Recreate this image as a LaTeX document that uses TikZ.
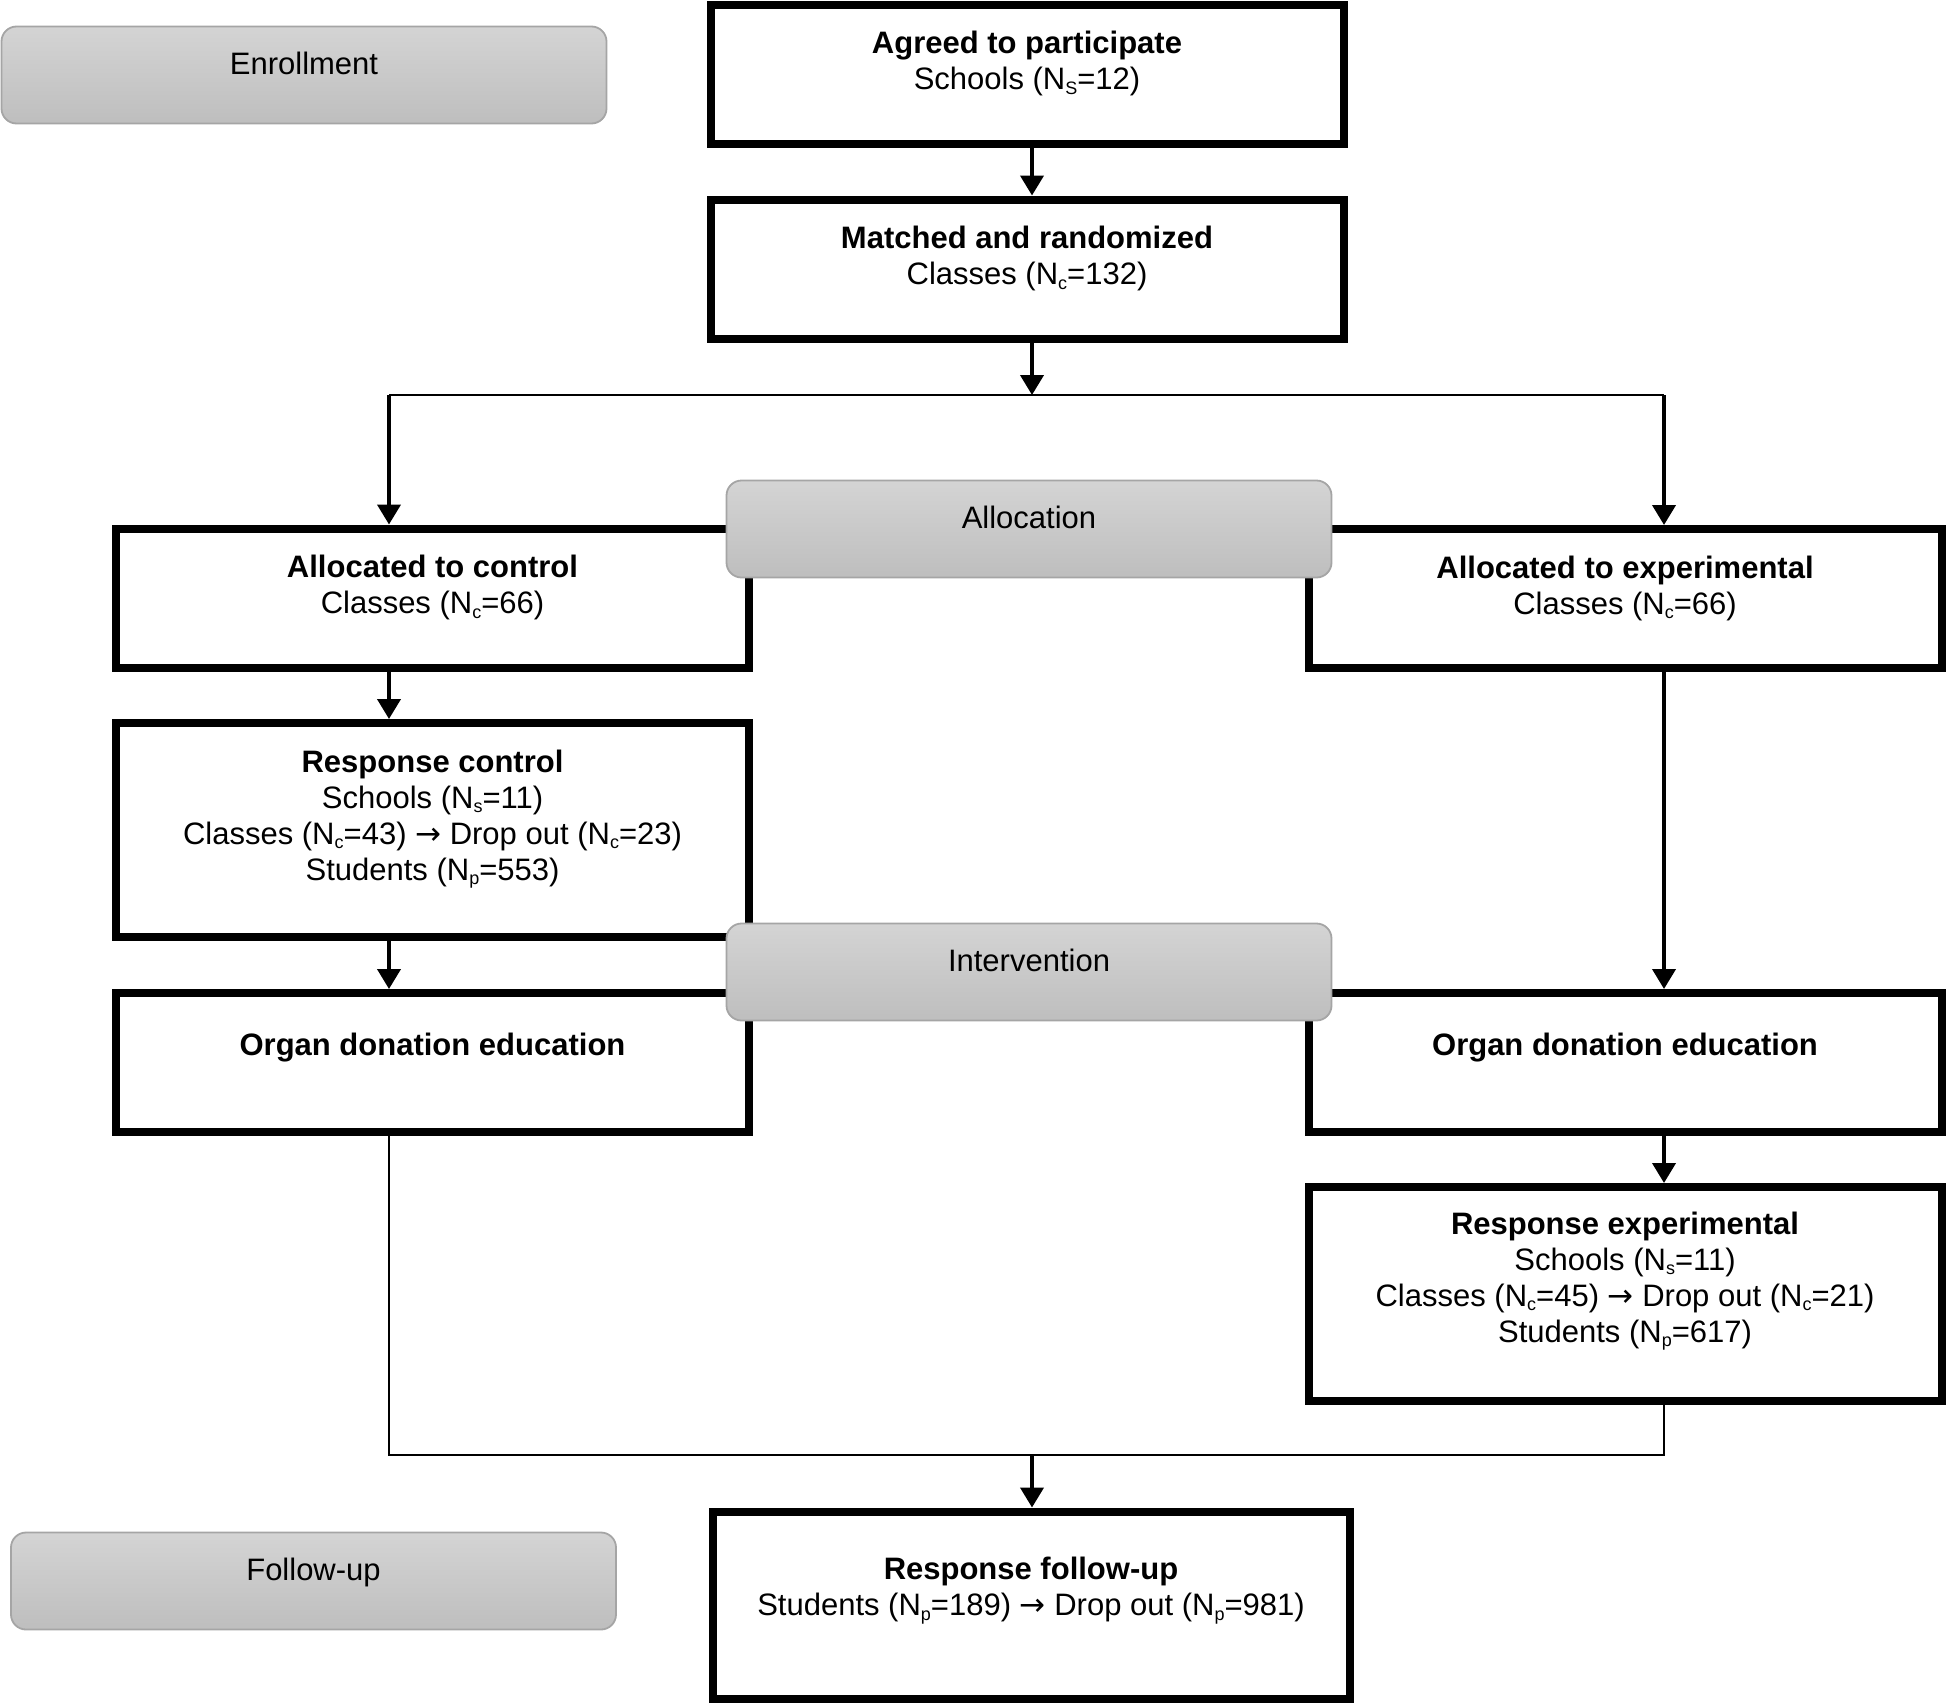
\documentclass[tikz,border=0pt]{standalone}
\usepackage{fontspec}
\setmainfont{Liberation Sans}
\newfontfamily\arrowfont{DejaVu Sans}
\newcommand{\toarrow}{{\arrowfont →}}
\newcommand{\lowsub}[1]{\raisebox{-0.15em}{\fontsize{9pt}{9pt}\selectfont #1}}
\usetikzlibrary{arrows.meta,calc}
\definecolor{phaseline}{RGB}{165,165,165}
\definecolor{phasetop}{RGB}{212,212,212}
\definecolor{phasebot}{RGB}{190,190,190}
\begin{document}
\begin{tikzpicture}[x=0.5pt,y=-0.5pt,
  box/.style={draw=black,line width=4pt,fill=white,inner sep=0pt,minimum width=316.5pt,minimum height=69.5pt},
  tallbox/.style={box,minimum height=107pt},
  phase/.style={draw=phaseline,line width=0.9pt,rounded corners=7.5pt,top color=phasetop,bottom color=phasebot,inner sep=0pt,minimum width=302.5pt,minimum height=48.5pt},
  lbl/.style={font=\fontsize{15.5pt}{18pt}\selectfont,align=center,anchor=base,inner sep=0pt},
  arr/.style={line width=2pt,-{Triangle[length=10pt,width=11.5pt]}},
  thinline/.style={line width=0.85pt}]
\useasboundingbox (0,0) rectangle (1947,1703);

% boxes
\node[box] (agreed) at (1027,74) {};
\node[box] (matched) at (1027,269) {};
\node[box] (ctrl) at (432.5,598) {};
\node[box] (expa) at (1625,598.5) {};
\node[tallbox] (respc) at (432.5,830) {};
\node[box] (orgc) at (432.5,1062.5) {};
\node[box] (orge) at (1625,1062.5) {};
\node[tallbox] (respe) at (1625,1294) {};
\node[box,minimum width=318.5pt,minimum height=93.5pt] (follow) at (1031,1605) {};

% helper coordinates
\coordinate (cx) at (1032,0);
\coordinate (lx) at (389,0);
\coordinate (rx) at (1664,0);
\coordinate (split) at (1032,395);
\coordinate (merge) at (1032,1455);

% texts (anchor = baseline of last line)
\node[lbl] (agreedT) at ([yshift=-44.5pt]agreed.north) {\textbf{Agreed to participate}\\Schools (N\lowsub{S}=12)};
\node[lbl] (matchedT) at ([yshift=-44.5pt]matched.north) {\textbf{Matched and randomized}\\Classes (N\lowsub{c}=132)};
\node[lbl] (ctrlT) at ([yshift=-44.5pt]ctrl.north) {\textbf{Allocated to control}\\Classes (N\lowsub{c}=66)};
\node[lbl] (expaT) at ([yshift=-44.5pt]expa.north) {\textbf{Allocated to experimental}\\Classes (N\lowsub{c}=66)};
\node[lbl] (respcT) at ([yshift=-80.5pt]respc.north) {\textbf{Response control}\\Schools (N\lowsub{s}=11)\\Classes (N\lowsub{c}=43) \toarrow{} Drop out (N\lowsub{c}=23)\\Students (N\lowsub{p}=553)};
\node[lbl] (orgcT) at ([yshift=-33pt]orgc.north) {\textbf{Organ donation education}};
\node[lbl] (orgeT) at ([yshift=-33pt]orge.north) {\textbf{Organ donation education}};
\node[lbl] (respeT) at ([yshift=-79.5pt]respe.north) {\textbf{Response experimental}\\Schools (N\lowsub{s}=11)\\Classes (N\lowsub{c}=45) \toarrow{} Drop out (N\lowsub{c}=21)\\Students (N\lowsub{p}=617)};
\node[lbl] (followT) at ([yshift=-54pt]follow.north) {\textbf{Response follow-up}\\Students (N\lowsub{p}=189) \toarrow{} Drop out (N\lowsub{p}=981)};

% connectors
\draw[arr] (agreed.south -| cx) -- (matched.north -| cx);
\draw[arr] (matched.south -| cx) -- (split);
\draw[thinline] (split -| lx) -- (split -| rx);
\draw[arr] (split -| lx) -- (ctrl.north -| lx);
\draw[arr] (split -| rx) -- (expa.north -| rx);
\draw[arr] (ctrl.south -| lx) -- (respc.north -| lx);
\draw[arr] (respc.south -| lx) -- (orgc.north -| lx);
\draw[arr] (expa.south -| rx) -- (orge.north -| rx);
\draw[arr] (orge.south -| rx) -- (respe.north -| rx);
\draw[thinline] (orgc.south -| lx) -- (merge -| lx) -- (merge -| rx) -- (respe.south -| rx);
\draw[arr] (merge) -- (follow.north -| merge);

% phase labels
\node[phase] (enroll) at (304,75) {};
\node[phase] (alloc) at (1029,529) {};
\node[phase] (interv) at (1029,972) {};
\node[phase] (fup) at (313.5,1581) {};
\node[lbl] (enrollT) at ([yshift=-24.5pt]enroll.north) {Enrollment};
\node[lbl] (allocT) at ([yshift=-24.5pt]alloc.north) {Allocation};
\node[lbl] (intervT) at ([yshift=-24.5pt]interv.north) {Intervention};
\node[lbl] (fupT) at ([yshift=-24.5pt]fup.north) {Follow-up};
\end{tikzpicture}
\end{document}
